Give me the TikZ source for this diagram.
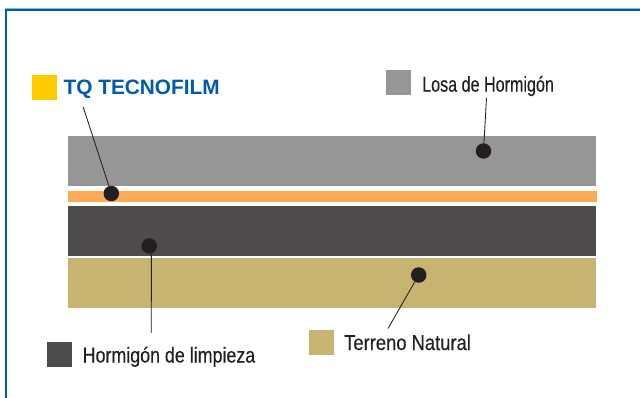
\documentclass[tikz,border=0pt]{standalone}
\usepackage{fontspec}
\setmainfont{Liberation Sans}
\newfontfamily\logofont{Liberation Sans Bold}
\newfontfamily\losafont[FakeStretch=0.75,FakeBold=0.25]{Liberation Sans}
\newfontfamily\limpiezafont[FakeStretch=0.83,FakeBold=0.25]{Liberation Sans}
\newfontfamily\terrenofont[FakeStretch=0.855,FakeBold=0.25]{Liberation Sans}
\definecolor{frameblue}{HTML}{005BAC}
\definecolor{logoblue}{HTML}{005BAC}
\definecolor{logoyellow}{HTML}{FFCC00}
\definecolor{slab}{HTML}{969696}
\definecolor{film}{HTML}{FFAA55}
\definecolor{lean}{HTML}{4D4B4C}
\definecolor{soil}{HTML}{C6B470}
\definecolor{ink}{HTML}{231F20}
\tikzset{
  x=1pt,y=-1pt,
  dotmark/.style={circle,fill=ink,draw=none,minimum size=15.5pt,inner sep=0pt},
  leader/.style={draw=ink,line width=0.85pt},
  legendtext/.style={anchor=base west,inner sep=0pt,text=ink},
  swatch/.style={minimum size=25pt,inner sep=0pt,draw=none,anchor=north west},
}
\begin{document}
\begin{tikzpicture}
\useasboundingbox (0,0) rectangle (640,398);
\fill[white] (0,0) rectangle (640,398);
% frame
\draw[frameblue!45,line width=1pt] (5,398) -- (5,9) -- (640,9);
\draw[frameblue,line width=2.2pt] (6.3,398) -- (6.3,10.2) -- (640,10.2);
% layers
\fill[slab] (68,136.5) rectangle (596,186.5);
\fill[film] (68,191) rectangle (597,202);
\fill[lean] (68,206) rectangle (596,256);
\fill[soil] (68,258) rectangle (596,308);
% legend
\node[swatch,fill=logoyellow] (yellowbox) at (32,75) {};
\node[anchor=base west,inner sep=0pt,text=logoblue,font=\logofont\fontsize{20.8}{20.8}\selectfont] (logo) at (63.5,95) {TQ TECNOFILM};
\node[swatch,fill=slab] (slabbox) at (386,70) {};
\node[legendtext,font=\losafont\fontsize{21.5}{21.5}\selectfont] (slablabel) at (422,91.7) {Losa de Hormigón};
\node[swatch,fill=lean] (leanbox) at (47,342) {};
\node[legendtext,font=\limpiezafont\fontsize{21.5}{21.5}\selectfont] (leanlabel) at (82.5,362.5) {Hormigón de limpieza};
\node[swatch,fill=soil] (soilbox) at (309,330) {};
\node[legendtext,font=\terrenofont\fontsize{21.5}{21.5}\selectfont] (soillabel) at (344,350) {Terreno Natural};
% dots
\node[dotmark] (dotfilm) at (111.3,193.5) {};
\node[dotmark] (dotslab) at (483.5,151) {};
\node[dotmark] (dotlean) at (149.3,246) {};
\node[dotmark] (dotsoil) at (418.7,275) {};
% free ends
\coordinate (endfilm) at (83.2,107);
\coordinate (endslab) at (486.5,98);
\coordinate (endlean) at (151.3,333);
\coordinate (endsoil) at (388,328.5);
% leaders
\draw[leader] (endfilm) -- (dotfilm);
\draw[leader] (endslab) -- (dotslab);
\draw[leader] (endlean) -- (dotlean.-75);
\draw[leader] (endsoil) -- (dotsoil);
\end{tikzpicture}
\end{document}
